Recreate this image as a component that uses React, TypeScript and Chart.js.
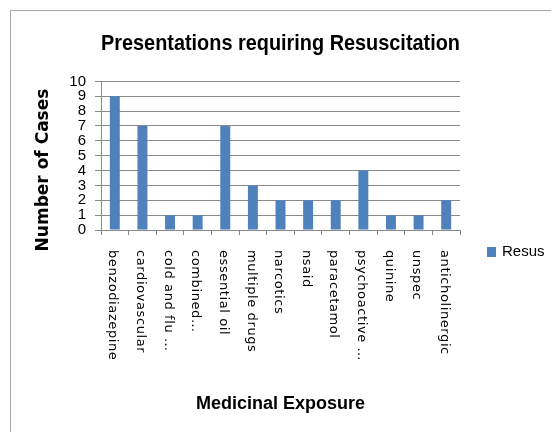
import React, { useEffect, useRef } from "react";
import { Chart, registerables } from "chart.js";

Chart.register(...registerables);

const categories = [
  "benzodiazepine",
  "cardiovascular",
  "cold and flu …",
  "combined…",
  "essential oil",
  "multiple drugs",
  "narcotics",
  "nsaid",
  "paracetamol",
  "psychoactive …",
  "quinine",
  "unspec",
  "anticholinergic",
];
const resusValues = [9, 7, 1, 1, 7, 3, 2, 2, 2, 4, 1, 1, 2];
const seriesName = "Resus";
const chartTitle = "Presentations requiring Resuscitation";
const yAxisTitle = "Number of Cases";
const xAxisTitle = "Medicinal Exposure";

const BAR_COLOR = "#4F81BD";
const GRID = "#8a8a8a";
const SANS = "'Liberation Sans', Arial, sans-serif";

const framePlugin = {
  id: "frame",
  beforeDraw(chart: any) {
    const ctx = chart.ctx;
    ctx.save();
    ctx.strokeStyle = "#a6a6a6";
    ctx.lineWidth = 1;
    ctx.beginPath();
    ctx.moveTo(10.5, chart.height);
    ctx.lineTo(10.5, 10.5);
    ctx.lineTo(chart.width, 10.5);
    ctx.stroke();
    ctx.restore();
  },
};

const labelsPlugin = {
  id: "rotLabels",
  afterDraw(chart: any) {
    const ctx = chart.ctx;
    const xs = chart.scales.x;
    const area = chart.chartArea;
    ctx.save();
    ctx.fillStyle = "#000";
    ctx.font = "13px 'DejaVu Sans', sans-serif";
    try {
      (ctx as any).letterSpacing = "0.6px";
    } catch (e) {}
    ctx.textAlign = "left";
    ctx.textBaseline = "middle";
    (chart.data.labels as string[]).forEach((lab, i) => {
      const x = xs.getPixelForValue(i) - 2;
      ctx.save();
      ctx.translate(x, area.bottom + 20);
      ctx.rotate(Math.PI / 2);
      ctx.fillText(lab, 0, 0);
      ctx.restore();
    });
    try {
      (ctx as any).letterSpacing = "0px";
    } catch (e) {}
    // y axis title
    ctx.save();
    ctx.translate(44, 170);
    ctx.rotate(-Math.PI / 2);
    ctx.font = "bold 17px 'DejaVu Sans', sans-serif";
    ctx.textAlign = "center";
    ctx.textBaseline = "middle";
    ctx.fillText(yAxisTitle, 0, 0);
    ctx.restore();
    // legend
    const ds = chart.data.datasets[0];
    const lx = area.right + 27;
    const ly = 252;
    ctx.fillStyle = ds.backgroundColor;
    ctx.fillRect(lx, ly - 5, 9, 10);
    ctx.fillStyle = "#000";
    ctx.font = "15px " + SANS;
    ctx.textAlign = "left";
    ctx.textBaseline = "middle";
    ctx.fillText(ds.label, lx + 15, ly);
    ctx.restore();
  },
};

export default function App() {
  const ref = useRef<HTMLCanvasElement>(null);
  useEffect(() => {
    if (!ref.current) return;
    const chart = new Chart(ref.current, {
      type: "bar",
      data: {
        labels: categories,
        datasets: [
          {
            label: seriesName,
            data: resusValues,
            backgroundColor: BAR_COLOR,
            borderWidth: 0,
            barPercentage: 0.36,
            categoryPercentage: 1,
          },
        ],
      },
      options: {
        animation: false,
        responsive: false,
        devicePixelRatio: 1,
        layout: { padding: { left: 0, right: 91, top: 0, bottom: 0 } },
        plugins: {
          legend: { display: false },
          tooltip: { enabled: false },
          title: {
            display: true,
            text: chartTitle,
            fullSize: false,
            color: "#000",
            font: { family: SANS, size: 22, weight: "bold", lineHeight: 1.2 },
            padding: { top: 31, bottom: 24 },
          },
        },
        scales: {
          x: {
            ticks: { display: false },
            grid: {
              display: true,
              drawOnChartArea: false,
              drawTicks: true,
              tickLength: 5,
              color: GRID,
              offset: true,
            },
            border: { display: true, color: GRID },
            title: {
              display: true,
              text: xAxisTitle,
              color: "#000",
              font: { family: SANS, size: 18, weight: "bold", lineHeight: 1.2 },
              padding: { top: 0, bottom: 17 },
            },
            afterFit(scale: any) {
              scale.height = 202;
            },
          },
          y: {
            min: 0,
            max: 10,
            ticks: {
              stepSize: 1,
              autoSkip: false,
              color: "#000",
              padding: 9,
              font: { family: SANS, size: 15, lineHeight: 1 },
            },
            grid: { color: GRID, tickLength: 6, drawTicks: true },
            border: { display: true, color: GRID },
            title: { display: false },
            afterFit(scale: any) {
              scale.width = 101;
            },
          },
        },
      },
      plugins: [framePlugin, labelsPlugin],
    });
    return () => chart.destroy();
  }, []);
  return (
    <div style={{ position: "fixed", left: 0, top: 0, width: 551, height: 432, background: "#fff" }}>
      <canvas ref={ref} width={551} height={432} />
    </div>
  );
}
